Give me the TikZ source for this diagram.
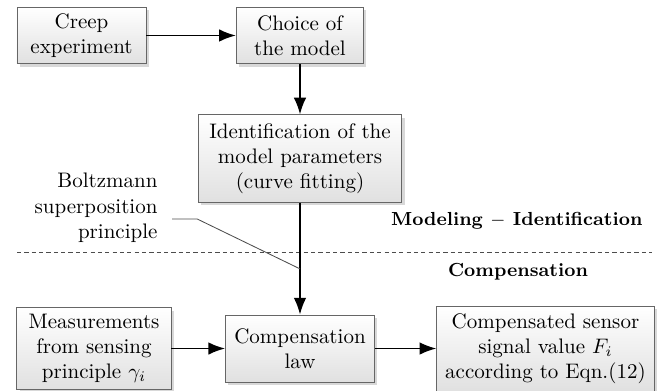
\documentclass[tikz,border=0pt]{standalone}
\usetikzlibrary{arrows.meta,shadows}

\tikzset{
  block/.style={draw=black!60, top color=white, bottom color=black!12, align=center,
    inner xsep=4pt, inner ysep=3pt,
    drop shadow={shadow xshift=1.3pt, shadow yshift=-1.3pt, fill=black!30, opacity=0.5}},
  flow/.style={-{Latex[length=8pt,width=6pt]}, line width=0.9pt},
  phase/.style={font=\small\bfseries},
  leader/.style={line width=0.4pt, black!70},
  separator/.style={line width=0.4pt, black!70, dash pattern=on 2pt off 1.5pt}
}

\begin{document}
\begin{tikzpicture}
    \useasboundingbox (0,0) rectangle (11.13,-6.544);
    % modeling
    \node[block, minimum width=2.16cm, minimum height=0.95cm] (creep) at (1.364,-0.594) {Creep\\experiment};
    \node[block, minimum width=2.13cm, minimum height=0.95cm] (choice) at (5.021,-0.594) {Choice of\\the model};
    \node[block, minimum width=3.41cm, minimum height=1.46cm] (ident) at (5.021,-2.653)
        {Identification of the\\model parameters\\(curve fitting)};
    % compensation
    \node[block, minimum width=2.58cm, minimum height=1.32cm] (meas) at (1.573,-5.833)
        {Measurements\\from sensing\\principle $\gamma_i$};
    \node[block, minimum width=2.49cm, minimum height=1.12cm] (law) at (5.021,-5.833) {Compensation\\law};
    \node[block, minimum width=3.56cm, minimum height=1.42cm] (out) at (9.129,-5.833)
        {Compensated sensor\\signal value $F_i$\\according to Eqn.(12)};

    % labels
    \node[align=right, anchor=east] (boltz) at (2.76,-3.48) {Boltzmann\\superposition\\principle};
    \node[phase] (modlabel) at (8.65,-3.69) {Modeling $-$ Identification};
    \node[phase] (complabel) at (8.67,-4.55) {Compensation};

    % separator
    \coordinate (sepL) at (0.285,-4.217);
    \coordinate (sepR) at (10.91,-4.217);
    \draw[separator] (sepL) -- (sepR);

    % arrows
    \draw[flow] (creep) -- (choice);
    \draw[flow] (choice) -- (ident);
    \draw[flow] (ident) -- (law);
    \draw[flow] (meas) -- (law);
    \draw[flow] (law) -- (out);

    % leader
    \coordinate (lead) at (2.88,-3.665);
    \coordinate (kink) at (3.30,-3.665);
    \coordinate (tap) at (5.021,-4.50);
    \draw[leader] (lead) -- (kink) -- (tap);
\end{tikzpicture}
\end{document}
